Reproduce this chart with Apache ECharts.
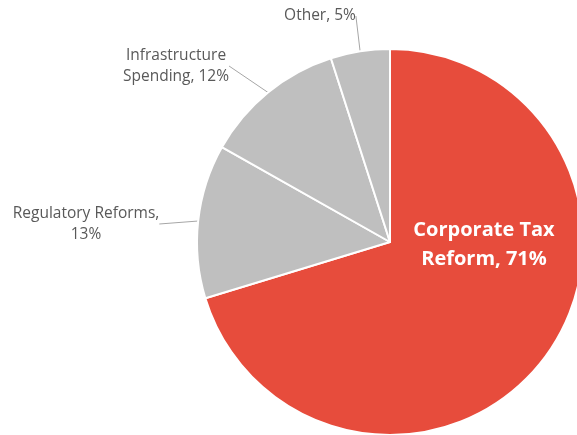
<!DOCTYPE html>
<html>
<head>
<meta charset="utf-8">
<script src="https://cdn.jsdelivr.net/npm/echarts@6/dist/echarts.min.js"></script>
<style>
  html, body { margin: 0; padding: 0; background: #fff; }
  #chart { width: 577px; height: 435px; }
</style>
</head>
<body>
<div id="chart"></div>
<script>
// slices, clockwise from 12 o'clock
const categories = ['Corporate Tax Reform', 'Regulatory Reforms', 'Infrastructure Spending', 'Other'];
const values = [71, 13, 12, 5];
const labelTexts = [
  'Corporate Tax\nReform, 71%',
  'Regulatory Reforms,\n13%',
  'Infrastructure\nSpending, 12%',
  'Other, 5%'
];
const colors = ['#e74c3c', '#bfbfbf', '#bfbfbf', '#bfbfbf'];

// where each label sits (centre of the text block)
const labelSpots = [[484, 245], [86, 224], [176, 66], [320, 16]];

const chart = echarts.init(document.getElementById('chart'));

const pieData = categories.map(function (name, i) {
  const item = {
    name: name,
    value: values[i],
    itemStyle: { color: colors[i] }
  };
  if (i === 0) {
    item.label = {
      position: 'inside',
      color: '#fff',
      fontSize: 20,
      fontWeight: 'bold',
      lineHeight: 29
    };
  }
  return item;
});

chart.setOption({
  animation: false,
  series: [
    {
      type: 'pie',
      center: [390, 242],
      radius: [0, 193],
      startAngle: 90,
      clockwise: true,
      avoidLabelOverlap: false,
      itemStyle: { borderColor: '#fff', borderWidth: 2 },
      label: {
        show: true,
        position: 'outside',
        fontFamily: 'Open Sans',
        fontSize: 15.5,
        lineHeight: 21,
        color: '#595959',
        formatter: function (p) { return labelTexts[p.dataIndex]; }
      },
      labelLine: {
        show: true,
        length: 0,
        length2: 0,
        lineStyle: { color: '#a6a6a6', width: 1 }
      },
      labelLayout: function (params) {
        const s = labelSpots[params.dataIndex];
        return { x: s[0], y: s[1], align: 'center', verticalAlign: 'middle' };
      },
      data: pieData
    }
  ]
});
</script>
</body>
</html>
